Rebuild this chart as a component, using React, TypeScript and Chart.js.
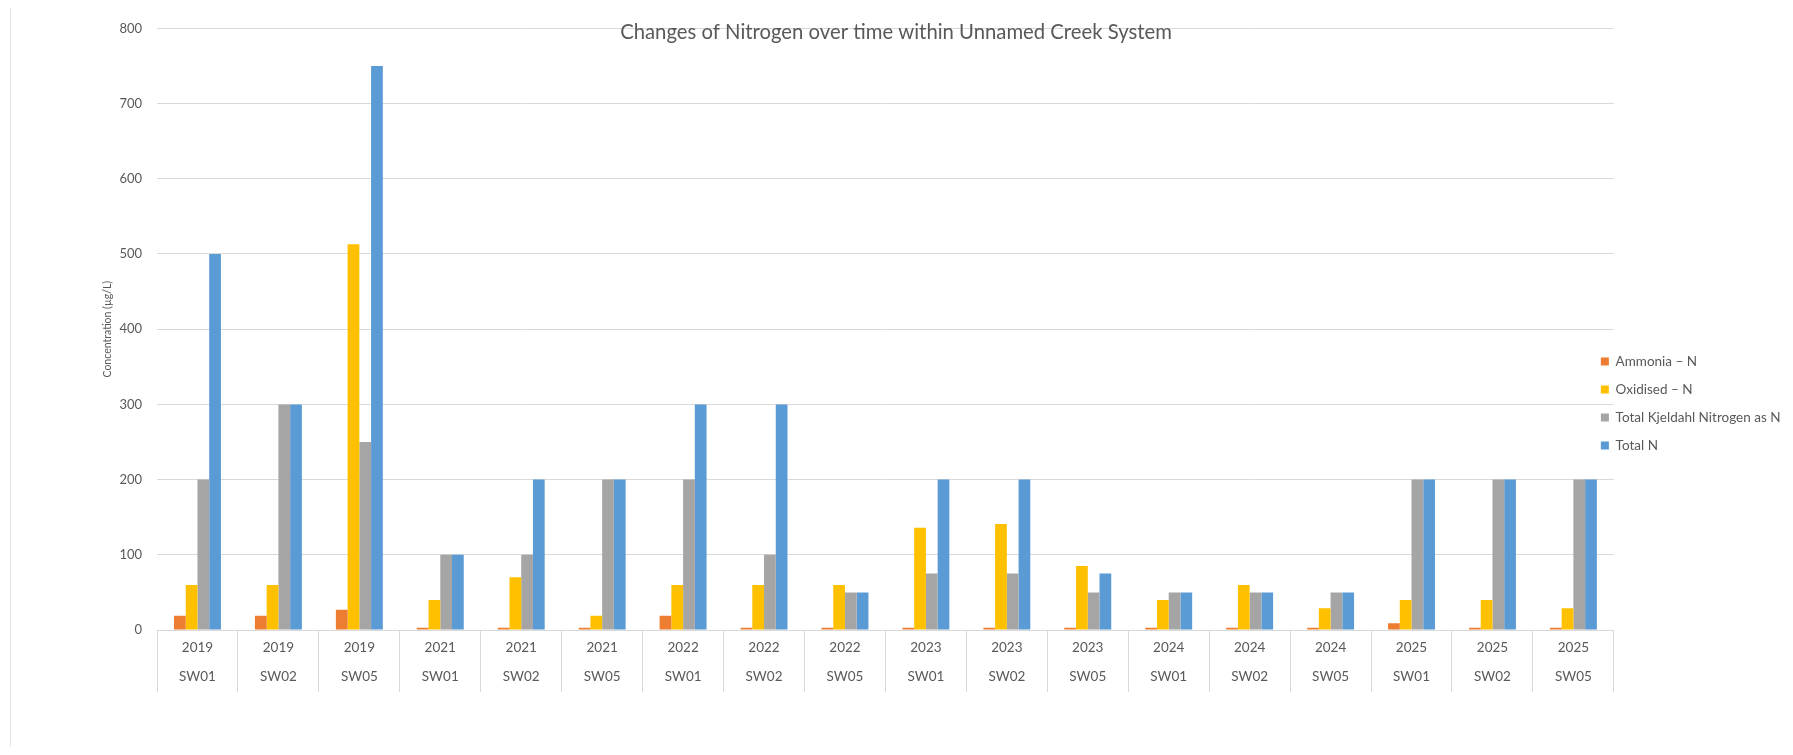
import React, { useEffect, useRef } from "react";
import { Chart, registerables } from "chart.js";

Chart.register(...registerables);

// ---- Data ----
const years = ["2019", "2019", "2019", "2021", "2021", "2021", "2022", "2022", "2022", "2023", "2023", "2023", "2024", "2024", "2024", "2025", "2025", "2025"];
const sites = ["SW01", "SW02", "SW05", "SW01", "SW02", "SW05", "SW01", "SW02", "SW05", "SW01", "SW02", "SW05", "SW01", "SW02", "SW05", "SW01", "SW02", "SW05"];

const ammoniaN = [19, 19, 27, 3, 3, 3, 19, 3, 3, 3, 3, 3, 3, 3, 3, 9, 3, 3];
const oxidisedN = [60, 60, 513, 40, 70, 19, 60, 60, 60, 136, 141, 85, 40, 60, 29, 40, 40, 29];
const tknN = [200, 300, 250, 100, 100, 200, 200, 100, 50, 75, 75, 50, 50, 50, 50, 200, 200, 200];
const totalN = [500, 300, 750, 100, 200, 200, 300, 300, 50, 200, 200, 75, 50, 50, 50, 200, 200, 200];

const seriesNames = ["Ammonia – N", "Oxidised – N", "Total Kjeldahl Nitrogen as N", "Total N"];
const seriesColors = ["#ED7D31", "#FFC000", "#A5A5A5", "#5B9BD5"];

const yMin = 0;
const yMax = 800;
const yStep = 100;

const titleText = "Changes of Nitrogen over time within Unnamed Creek System";
const yTitle = "Concentration (µg/L)";

const FONT = 'Lato, "Open Sans", "DejaVu Sans", sans-serif';
const TEXT = "#595959";
const GRID = "#d9d9d9";

const legendPlace = {
  id: "legendPlace",
  afterLayout(chart: any) {
    const lg = chart.legend;
    if (!lg) return;
    const ca = chart.chartArea;
    const pad = lg.options.labels.padding;
    const w = lg.width;
    const h = lg.height;
    lg.left = ca.right - 13 - pad;
    lg.right = lg.left + w;
    lg.top = ca.top + 312;
    lg.bottom = lg.top + h;
  },
};

export default function App() {
  const ref = useRef<HTMLCanvasElement | null>(null);

  useEffect(() => {
    if (!ref.current) return;
    const values = [ammoniaN, oxidisedN, tknN, totalN];
    const chart = new Chart(ref.current, {
      type: "bar",
      data: {
        labels: years.map((y, i) => [y, sites[i]]),
        datasets: seriesNames.map((name, i) => ({
          label: name,
          data: values[i],
          backgroundColor: seriesColors[i],
          borderWidth: 0,
          categoryPercentage: 0.58,
          barPercentage: 1.0,
        })),
      },
      options: {
        animation: false,
        responsive: true,
        maintainAspectRatio: false,
        layout: { padding: { left: -34, right: -33, top: 0, bottom: 53 } },
        plugins: {
          title: {
            display: true,
            text: titleText,
            color: TEXT,
            font: { family: FONT, size: 20.3, weight: "normal" },
            padding: { top: 12.5, bottom: -16.5 },
          },
          legend: {
            position: "right",
            align: "start",
            labels: {
              boxWidth: 8,
              boxHeight: 8,
              padding: 14.5,
              color: TEXT,
              font: { family: FONT, size: 13.5 },
            },
          },
          tooltip: { enabled: false },
        },
        scales: {
          x: {
            grid: {
              offset: true,
              drawOnChartArea: false,
              drawTicks: true,
              tickLength: 62,
              color: GRID,
            },
            border: { display: true, color: GRID },
            ticks: {
              color: TEXT,
              font: { family: FONT, size: 13.5, lineHeight: 28.8 / 13.5 },
              padding: -58.4,
              maxRotation: 0,
              autoSkip: false,
            },
            afterFit: (scale: any) => {
              scale.height = 64;
            },
          },
          y: {
            min: yMin,
            max: yMax,
            grid: { color: GRID, drawTicks: false },
            border: { display: false },
            ticks: {
              stepSize: yStep,
              color: TEXT,
              padding: 15,
              font: { family: FONT, size: 13 },
            },
            title: {
              display: true,
              text: yTitle,
              color: TEXT,
              font: { family: FONT, size: 10.5 },
              padding: { top: 127, bottom: 0 },
            },
            afterFit: (scale: any) => {
              scale.width = 183;
              scale.paddingTop = 0;
              scale.paddingBottom = 0;
            },
          },
        },
      },
      plugins: [legendPlace],
    });
    return () => chart.destroy();
  }, []);

  return (
    <div style={{ position: "relative", width: 1777, height: 739 }}>
      <div
        style={{
          position: "absolute",
          left: 2,
          top: -3,
          width: 1800,
          height: 741,
          borderTop: "1px solid #e3e3e3",
          borderLeft: "1px solid #e3e3e3",
          borderBottom: "1px solid #e3e3e3",
          pointerEvents: "none",
        }}
      />
      <canvas ref={ref} />
    </div>
  );
}
